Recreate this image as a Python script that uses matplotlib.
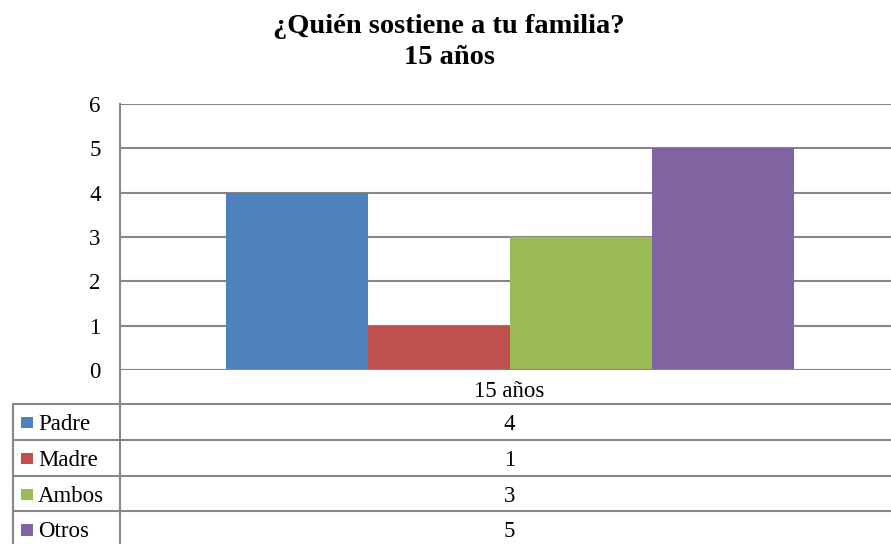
import matplotlib
matplotlib.use("Agg")
import matplotlib.pyplot as plt
from matplotlib.lines import Line2D
from matplotlib.patches import Rectangle

plt.rcParams['font.family'] = ['Liberation Serif', 'DejaVu Serif']

title_lines = ["¿Quién sostiene a tu familia?", "15 años"]
group_label = "15 años"
series_names = ["Padre", "Madre", "Ambos", "Otros"]
series_values = [4, 1, 3, 5]
series_colors = ["#4F81BD", "#C0504D", "#9BBB59", "#8064A2"]
y_ticks = [0, 1, 2, 3, 4, 5, 6]

W, H = 891, 544
fig = plt.figure(figsize=(W / 100, H / 100), dpi=100)

def fx(px):
    return px / W

def fy(py):
    return 1 - py / H

grid_c = "#878787"
lw = 1.5
fs = 16.5

# main bar axes
left, right, top, bottom = 120, 899, 104, 370
ax = fig.add_axes([fx(left), fy(bottom), fx(right - left), fy(top) - fy(bottom)])
n = len(series_values)
bw = 142 / (right - left)
for i, (name, v, c) in enumerate(zip(series_names, series_values, series_colors)):
    ax.bar((i - (n - 1) / 2) * bw, v, width=bw, color=c, zorder=3, linewidth=0)
ax.set_xlim(-0.5, 0.5)
ax.set_ylim(0, 6)
ax.set_yticks(y_ticks)
ax.set_yticklabels([str(t) for t in y_ticks], fontsize=fs)
ax.set_xticks([])
ax.tick_params(axis='y', length=0, pad=14)
ax.grid(axis='y', color=grid_c, linewidth=lw, zorder=1)
for s in ['top', 'right', 'bottom']:
    ax.spines[s].set_visible(False)
ax.spines['left'].set_color(grid_c)
ax.spines['left'].set_linewidth(lw)
ax.axhline(0, color=grid_c, linewidth=lw, zorder=4)

# data table overlay in pixel coordinates
tab = fig.add_axes([0, 0, 1, 1])
tab.set_xlim(0, W)
tab.set_ylim(H, 0)
tab.axis('off')
tab.patch.set_alpha(0)

row_h = 35.8
row_top = 404
tab.add_line(Line2D([120, 120], [370, H], color=grid_c, lw=lw))
tab.add_line(Line2D([13, 13], [row_top, H], color=grid_c, lw=lw))
for k in range(n + 1):
    yline = row_top + k * row_h
    tab.add_line(Line2D([13, W], [yline, yline], color=grid_c, lw=lw))

cx = (left + right) / 2
tab.text(cx, 397, group_label, ha='center', va='baseline', fontsize=fs)
for k, (name, v, c) in enumerate(zip(series_names, series_values, series_colors)):
    yb = 430 + k * row_h
    yc = row_top + (k + 0.5) * row_h
    tab.add_patch(Rectangle((21, yc - 5.5 + 0.5), 11.5, 11.5, color=c, lw=0))
    tab.text(38, yb, name, ha='left', va='baseline', fontsize=fs)
    tab.text(cx, yb, str(v), ha='center', va='baseline', fontsize=fs)

fig.text(fx(449), fy(33), title_lines[0], ha='center', va='baseline', fontsize=20.5, fontweight='bold')
fig.text(fx(449), fy(64), title_lines[1], ha='center', va='baseline', fontsize=20.5, fontweight='bold')

fig.savefig("out.png", dpi=100)
